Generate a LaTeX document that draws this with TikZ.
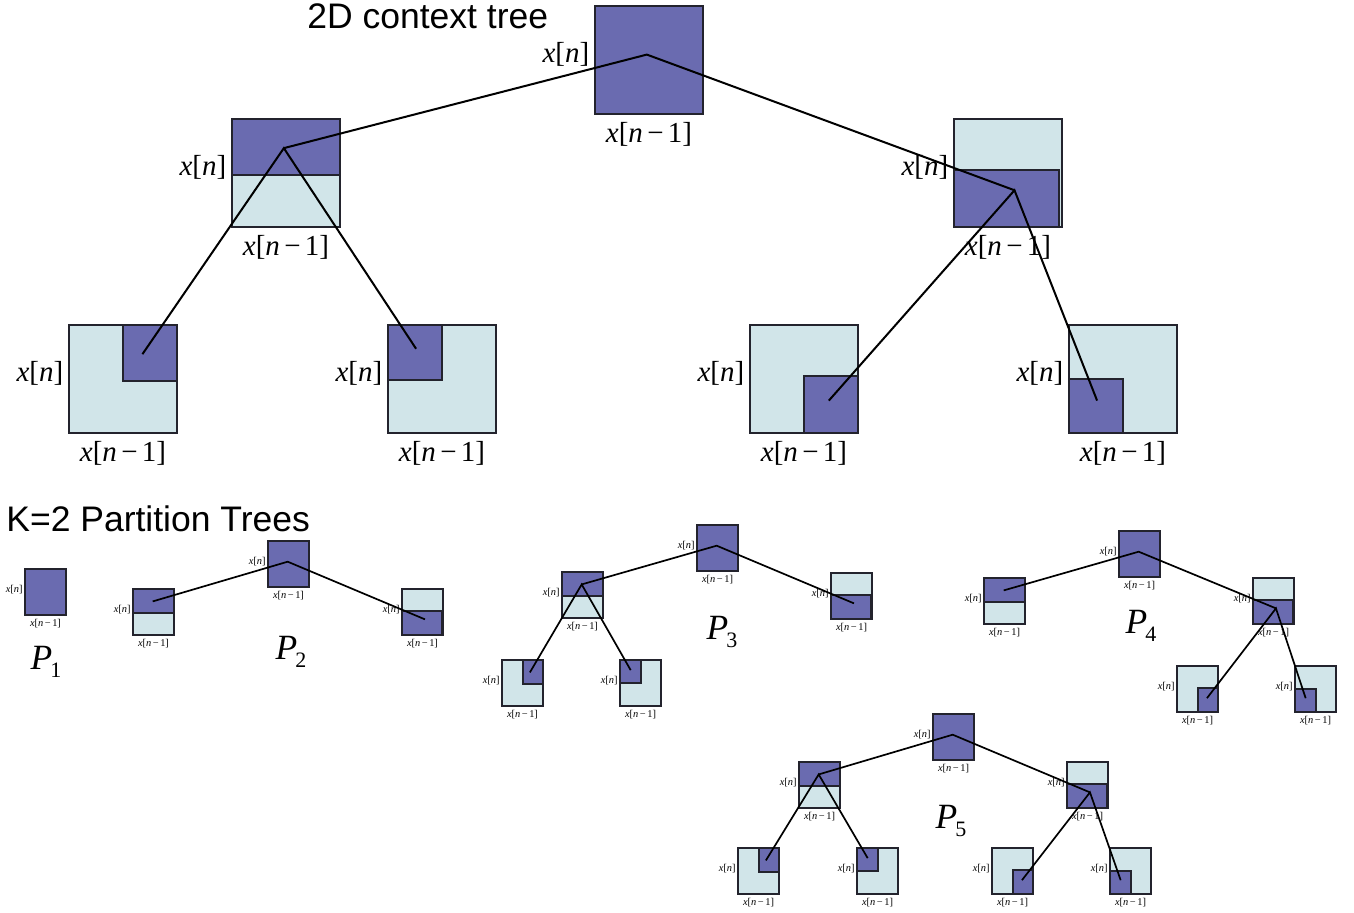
\documentclass[tikz,border=0pt]{standalone}
\usepackage{fontspec}
\setmainfont{Liberation Serif}
\newfontfamily\headfont{Liberation Sans}

\definecolor{cellDark}{RGB}{106,107,176}
\definecolor{cellLight}{RGB}{209,229,233}
\definecolor{frameGrey}{RGB}{35,35,45}

% axis labels
\newcommand\xn{\textit{x}[\textit{n}]}
\newcommand\xm{\textit{x}[\textit{n}\kern0.15em−\kern0.15em1]}
% partition tree caption P_k
\newcommand\plabel[1]{\fontsize{17.75}{20}\selectfont\textit{P}\kern-0.06em\raisebox{-0.23em}{\fontsize{11}{12}\selectfont #1}}

% cell kinds: #1 anchor name, #2 width, #3 height
\newcommand\kindF[3]{%
  \fill[cellDark] (0,0) rectangle (#2,#3);
  \coordinate (#1) at ({0.48*#2},{0.45*#3});}
\newcommand\kindT[3]{%
  \fill[cellLight] (0,0) rectangle (#2,#3);
  \filldraw[fill=cellDark, frame] (0,0) rectangle (#2,{0.52*#3});
  \coordinate (#1) at ({0.48*#2},{0.27*#3});}
\newcommand\kindB[3]{%
  \fill[cellLight] (0,0) rectangle (#2,#3);
  \filldraw[fill=cellDark, frame] (0,{0.47*#3}) rectangle ({0.97*#2},#3);
  \coordinate (#1) at ({0.56*#2},{0.66*#3});}
\newcommand\kindTR[3]{%
  \fill[cellLight] (0,0) rectangle (#2,#3);
  \filldraw[fill=cellDark, frame] ({0.5*#2},0) rectangle (#2,{0.52*#3});
  \coordinate (#1) at ({0.68*#2},{0.27*#3});}
\newcommand\kindTL[3]{%
  \fill[cellLight] (0,0) rectangle (#2,#3);
  \filldraw[fill=cellDark, frame] (0,0) rectangle ({0.5*#2},{0.51*#3});
  \coordinate (#1) at ({0.26*#2},{0.22*#3});}
\newcommand\kindBR[3]{%
  \fill[cellLight] (0,0) rectangle (#2,#3);
  \filldraw[fill=cellDark, frame] ({0.5*#2},{0.47*#3}) rectangle (#2,#3);
  \coordinate (#1) at ({0.73*#2},{0.70*#3});}
\newcommand\kindBL[3]{%
  \fill[cellLight] (0,0) rectangle (#2,#3);
  \filldraw[fill=cellDark, frame] (0,{0.5*#3}) rectangle ({0.5*#2},#3);
  \coordinate (#1) at ({0.26*#2},{0.70*#3});}

% one cell: #1 name, #2 kind, #3 left, #4 top, #5 width, #6 height, #7 label style
\newcommand\cellbox[7]{%
  \begin{scope}[shift={(#3,#4)}]
    \csname kind#2\endcsname{#1}{#5}{#6}
    \draw[frame] (0,0) rectangle (#5,#6);
    \node[#7, anchor=east] (#1-n) at ({-0.05*#5},{0.45*#6}) {\xn};
    \node[#7] (#1-m) at ({0.5*#5},{1.19*#6}) {\xm};
  \end{scope}}
\newcommand\bigcell[4]{\cellbox{#1}{#2}{#3}{#4}{108}{108}{lblbig}}
\newcommand\smallcell[4]{\cellbox{#1}{#2}{#3}{#4}{41}{46}{lblsmall}}

\begin{document}
\begin{tikzpicture}[x=0.5pt, y=-0.5pt,
  frame/.style={draw=frameGrey, line width=1pt},
  lblbig/.style={font=\fontsize{14.5}{16}\selectfont, inner sep=0pt},
  lblsmall/.style={font=\fontsize{5.2}{6}\selectfont, inner sep=0pt},
  edgebig/.style={draw=black, line width=1pt},
  edgesmall/.style={draw=black, line width=0.85pt},
  heading/.style={font=\headfont\fontsize{17.75}{20}\selectfont, inner sep=0pt, anchor=base west}]

\useasboundingbox (0,0) rectangle (1354,913);

% headings
\node[heading] (title1) at (307,29) {2D context tree};
\node[heading] (title2) at (6,532) {K=2 Partition Trees};

% ---- 2D context tree ----
\bigcell{t0}{F}{595}{6}
\bigcell{tL}{T}{232}{119}
\bigcell{tR}{B}{954}{119}
\bigcell{tLL}{TR}{69}{325}
\bigcell{tLR}{TL}{388}{325}
\bigcell{tRL}{BR}{750}{325}
\bigcell{tRR}{BL}{1069}{325}
\draw[edgebig] (tL) -- (t0) -- (tR);
\draw[edgebig] (tLL) -- (tL) -- (tLR);
\draw[edgebig] (tRL) -- (tR) -- (tRR);

% ---- P1 ----
\smallcell{a0}{F}{25}{569}
\node (a-lbl) at (46,662) {\plabel{1}};

% ---- P2 ----
\smallcell{b0}{F}{268}{541}
\smallcell{bL}{T}{133}{589}
\smallcell{bR}{B}{402}{589}
\draw[edgesmall] (bL) -- (b0) -- (bR);
\node (b-lbl) at (291,652) {\plabel{2}};

% ---- P3 ----
\smallcell{c0}{F}{697}{525}
\smallcell{cL}{T}{562}{572}
\smallcell{cR}{B}{831}{573}
\smallcell{cLL}{TR}{502}{660}
\smallcell{cLR}{TL}{620}{660}
\draw[edgesmall] (cL) -- (c0) -- (cR);
\draw[edgesmall] (cLL) -- (cL) -- (cLR);
\node (c-lbl) at (722,632) {\plabel{3}};

% ---- P4 ----
\smallcell{d0}{F}{1119}{531}
\smallcell{dL}{T}{984}{578}
\smallcell{dR}{B}{1253}{578}
\smallcell{dRL}{BR}{1177}{666}
\smallcell{dRR}{BL}{1295}{666}
\draw[edgesmall] (dL) -- (d0) -- (dR);
\draw[edgesmall] (dRL) -- (dR) -- (dRR);
\node (d-lbl) at (1141,626) {\plabel{4}};

% ---- P5 ----
\smallcell{e0}{F}{933}{714}
\smallcell{eL}{T}{799}{762}
\smallcell{eR}{B}{1067}{762}
\smallcell{eLL}{TR}{738}{848}
\smallcell{eLR}{TL}{857}{848}
\smallcell{eRL}{BR}{992}{848}
\smallcell{eRR}{BL}{1110}{848}
\draw[edgesmall] (eL) -- (e0) -- (eR);
\draw[edgesmall] (eLL) -- (eL) -- (eLR);
\draw[edgesmall] (eRL) -- (eR) -- (eRR);
\node (e-lbl) at (951,821) {\plabel{5}};

\end{tikzpicture}
\end{document}
